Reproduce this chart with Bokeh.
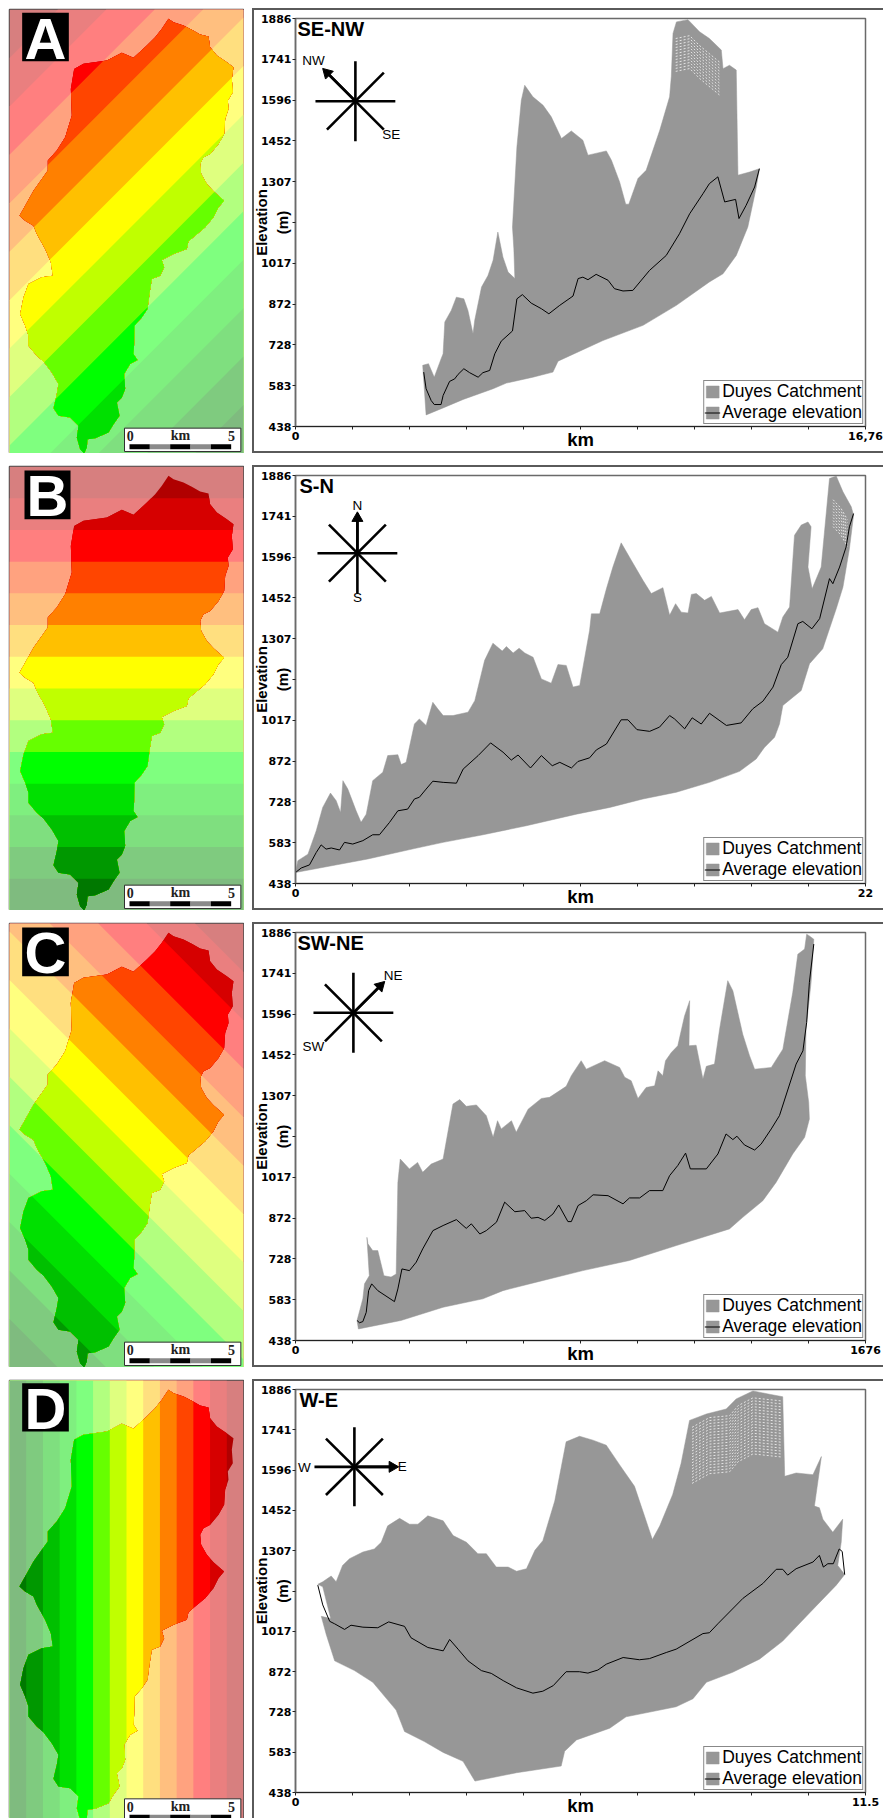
import math
from bokeh.embed import file_html
from bokeh.layouts import column, row
from bokeh.models import (FixedTicker, Label, Legend, LegendItem, Range1d, Spacer)
from bokeh.plotting import figure
from bokeh.resources import INLINE

ELEV_TICKS = [438, 583, 728, 872, 1017, 1307, 1452, 1596, 1741, 1886]
ELEV_BLANK_TICK = [1162]

A_MAX = 16.76
B_MAX = 22
C_MAX = 16.76
D_MAX = 11.5
A_END_LABEL = "16,76"
B_END_LABEL = "22"
C_END_LABEL = "1676"
D_END_LABEL = "11.5"

A_UP_KM = [3.74,3.91,4.08,4.28,4.34,4.39,4.58,4.73,4.95,5.07,5.22,5.27,5.47,5.66,5.81,5.95,6.10,6.25,6.45,6.42,6.38,6.51,6.64,6.74,6.98,7.28,7.52,7.82,8.11,8.45,8.60,8.89,9.14,9.29,9.53,9.71,9.80,10.07,10.31,10.71,11.00,11.05,11.10,11.20,11.54,11.88,12.17,12.52,12.57,12.76,12.96,13.01,13.35,13.64]
A_UP_M = [655,661,613,678,696,809,850,897,891,850,767,815,933,974,1028,1128,1039,986,963,1069,1146,1430,1596,1649,1608,1578,1537,1460,1487,1454,1401,1409,1416,1383,1306,1227,1227,1318,1347,1489,1608,1680,1833,1874,1882,1839,1815,1774,1708,1720,1703,1330,1341,1353]
A_LOW_KM = [3.84,4.34,4.93,5.81,6.20,6.98,7.57,7.72,9.04,10.22,11.20,12.17,12.57,12.96,13.30,13.55,13.64]
A_LOW_M = [479,504,534,572,592,613,631,670,743,797,868,951,980,1045,1146,1288,1353]
A_AVG_KM = [3.77,3.84,3.99,4.08,4.28,4.34,4.53,4.68,4.78,4.95,5.12,5.37,5.51,5.71,5.86,6.05,6.38,6.51,6.67,6.93,7.23,7.45,7.77,8.16,8.31,8.45,8.60,8.84,9.19,9.38,9.63,9.92,10.41,10.90,11.29,11.59,11.98,12.17,12.42,12.62,12.94,13.04,13.25,13.50,13.64]
A_AVG_M = [631,572,530,516,516,548,598,607,623,643,629,613,629,637,696,741,777,891,906,876,856,838,868,901,963,968,959,978,957,927,919,921,992,1045,1122,1193,1264,1300,1324,1235,1244,1176,1223,1288,1353]
A_STREAK_KM = [11.18,11.59,11.88,12.48]
A_STREAK_M = [1815,1825,1790,1730]

B_UP_KM = [0,0.09,0.48,0.80,1.05,1.35,1.57,1.74,1.83,2.02,2.34,2.53,2.73,2.98,3.37,3.56,3.95,4.08,4.27,4.59,4.78,5.04,5.30,5.49,5.70,6.08,6.66,6.92,7.30,7.62,7.98,8.14,8.40,8.63,8.85,9.17,9.49,9.87,10.13,10.45,10.71,10.97,11.35,11.42,11.74,12.00,12.25,12.57,12.96,13.41,13.73,14.18,14.44,14.67,14.89,15.15,15.28,15.47,15.79,16.05,16.37,17.08,17.33,17.59,17.85,18.10,18.62,18.81,19.07,19.26,19.52,19.78,19.90,19.78,19.94,20.29,20.61,20.87,21.13,21.45,21.54]
B_UP_M = [477,519,542,625,708,759,732,690,803,773,696,655,684,803,833,892,895,860,868,1004,1022,999,1081,1058,1034,1034,1046,1087,1230,1291,1263,1279,1256,1273,1256,1241,1164,1149,1215,1212,1135,1141,1336,1395,1395,1484,1561,1647,1585,1514,1467,1488,1390,1431,1401,1398,1464,1467,1443,1457,1398,1410,1374,1410,1417,1360,1330,1384,1419,1674,1710,1721,1704,1561,1484,1561,1875,1884,1828,1775,1745]
B_LOW_KM = [0,2.79,4.59,5.70,7.24,8.91,10.84,12.13,13.41,14.70,15.98,17.14,17.78,18.10,18.49,18.68,18.81,19.52,19.84,20.35,20.87,21.13,21.38,21.54]
B_LOW_M = [477,525,562,584,611,643,684,708,738,762,797,836,880,921,957,1004,1070,1123,1218,1271,1413,1490,1627,1745]
B_AVG_KM = [0,0.22,0.54,0.80,0.99,1.18,1.38,1.70,1.89,2.21,2.60,2.98,3.24,3.63,3.95,4.33,4.59,4.78,5.04,5.30,5.70,6.21,6.47,7.05,7.53,8.01,8.33,8.59,9.07,9.49,9.91,10.20,10.65,10.90,11.35,11.61,12.00,12.57,12.83,13.18,13.67,14.05,14.44,14.63,15.02,15.31,15.66,15.98,16.63,17.20,17.65,18.04,18.43,18.75,19.00,19.39,19.58,19.93,20.23,20.61,20.74,21.00,21.25,21.38,21.54]
B_AVG_M = [477,493,504,548,575,560,564,557,584,578,590,611,611,655,696,702,738,744,773,801,797,794,844,892,937,904,876,894,848,892,856,868,848,871,884,912,933,1019,1019,984,978,993,1034,1022,987,1026,1004,1042,999,1008,1058,1085,1135,1215,1241,1360,1368,1342,1378,1520,1502,1561,1632,1704,1751]
B_STREAK_KM = [20.75,21.05,21.30]
B_STREAK_M = [1800,1770,1730]

C_UP_KM = [1.81,1.98,2.03,2.17,2.10,2.13,2.27,2.42,2.60,2.81,2.96,3.01,3.08,3.35,3.59,3.74,3.99,4.34,4.63,4.83,5.02,5.32,5.61,5.81,5.94,6.05,6.35,6.49,6.84,7.23,7.47,7.96,8.11,8.40,8.55,9.09,9.53,9.68,9.87,10.07,10.31,10.56,10.66,10.80,10.88,11.05,11.24,11.44,11.59,11.57,11.78,11.98,12.08,12.32,12.47,12.71,12.86,13.15,13.35,13.50,13.99,14.33,14.62,14.77,14.97,15.03,15.11,15.24]
C_UP_M = [509,586,639,668,804,781,757,757,668,663,674,999,1082,1047,1070,1035,1064,1082,1277,1293,1269,1274,1236,1159,1218,1189,1218,1177,1259,1297,1301,1340,1378,1431,1401,1431,1407,1372,1360,1297,1336,1342,1395,1378,1431,1460,1484,1590,1644,1484,1486,1366,1411,1419,1543,1715,1679,1525,1449,1401,1407,1472,1673,1809,1827,1880,1874,1862]
C_LOW_KM = [1.85,3.10,4.34,5.51,6.10,7.08,8.45,9.82,11.20,12.76,13.15,13.74,14.13,14.62,14.97,15.11,15.09,14.99,15.01,15.16,15.24]
C_LOW_M = [479,509,556,586,615,645,686,722,775,834,875,934,999,1100,1159,1224,1283,1378,1543,1709,1862]
C_AVG_KM = [1.81,1.88,1.98,2.08,2.15,2.24,2.42,2.91,3.01,3.13,3.35,3.55,3.74,4.04,4.34,4.73,5.02,5.17,5.42,5.61,5.91,6.15,6.45,6.74,6.93,7.13,7.33,7.57,7.74,8.01,8.11,8.31,8.55,8.75,9.19,9.63,9.82,10.12,10.41,10.80,11.00,11.24,11.47,11.61,12.08,12.42,12.66,12.86,12.98,13.20,13.50,13.69,13.99,14.23,14.72,14.92,15.03,15.11,15.24]
C_AVG_M = [509,501,505,538,615,639,615,576,621,692,686,716,763,828,846,867,836,852,816,828,858,929,895,899,872,875,864,887,919,860,860,917,934,955,952,923,944,944,970,970,1023,1059,1103,1047,1047,1100,1171,1151,1163,1132,1114,1135,1189,1236,1419,1466,1567,1709,1845]

D_UP_KM = [0.71,0.55,0.45,0.55,0.72,0.82,0.95,1.09,1.36,1.59,1.73,1.86,2.10,2.30,2.47,2.67,2.98,3.18,3.45,3.68,3.85,4.05,4.29,4.46,4.66,4.83,4.99,5.23,5.46,5.73,6.00,6.27,6.54,6.84,7.04,7.20,7.35,7.61,7.78,7.95,8.29,8.69,8.89,9.23,9.56,9.83,9.87,10.10,10.44,10.61,10.47,10.57,10.64,10.84,11.04,11.01,10.94,11.08]
D_UP_M = [1063,1177,1186,1195,1216,1195,1254,1278,1302,1313,1337,1396,1423,1402,1402,1432,1414,1361,1337,1296,1296,1248,1248,1233,1242,1308,1343,1485,1698,1718,1704,1686,1615,1538,1432,1347,1396,1509,1621,1775,1798,1816,1852,1881,1869,1860,1574,1586,1580,1645,1467,1461,1420,1373,1420,1337,1254,1221]
D_LOW_KM = [0.71,0.52,0.62,0.79,1.19,1.56,2.03,2.20,2.60,2.98,3.38,3.62,4.46,5.36,5.43,5.67,6.34,6.67,7.68,8.02,8.29,8.82,9.36,9.83,10.37,10.91,11.08]
D_LOW_M = [1063,1071,1006,911,876,834,734,657,621,582,550,479,509,533,586,627,669,710,746,775,834,870,917,982,1083,1183,1221]
D_AVG_KM = [0.45,0.55,0.69,0.79,0.99,1.12,1.36,1.66,1.88,2.20,2.33,2.67,2.98,3.11,3.28,3.48,3.75,3.95,4.19,4.46,4.79,4.99,5.20,5.46,5.73,5.90,6.10,6.27,6.61,6.94,7.14,7.48,7.68,8.22,8.35,8.52,9.03,9.43,9.70,9.83,9.93,10.10,10.44,10.57,10.65,10.74,10.85,10.97,11.03,11.08]
D_AVG_M = [1183,1112,1053,1044,1024,1039,1032,1030,1051,1035,994,959,947,988,953,911,876,866,840,814,795,802,822,872,872,867,878,899,923,915,919,941,953,1009,1012,1044,1136,1189,1240,1240,1219,1242,1266,1290,1248,1260,1260,1313,1304,1221]
D_STREAK_KM = [8.00,8.35,8.76,8.93,9.23,9.80]
D_STREAK_M = [1750,1785,1792,1828,1856,1845]

CATCH_E = [477,492,522,547,572,597,602,622,652,672,667,670,655,657,647,644,627,602,582,572,575,592,612,644,627,612,587,557,537,532,492,457,464,452,427,420,414,397,375,374,372,384,362,344,347,337,322,330,312,297,257,234,232,224,212,202,207,182,147,132,142,147,127,102,82,57,57,47,32,42,57,97,130,124,107,82,72,47,30,47,72,97,115,115,142,167,187,184,194,222,292,337,372,412,437,457]
CATCH_N = [1303,1293,1283,1270,1256,1250,1218,1193,1173,1158,1123,1083,1058,1033,1003,958,928,898,888,868,838,808,786,758,738,708,678,653,636,613,598,580,558,533,523,478,433,408,383,328,298,280,268,238,193,168,153,113,88,63,46,43,18,0,13,48,83,108,113,136,178,208,243,276,293,323,353,383,418,468,508,528,533,573,613,658,683,698,713,743,788,823,848,878,908,948,1013,1093,1153,1168,1178,1201,1186,1223,1248,1273]
BAND_COLORS = ["#b00000","#d60000","#ff0000","#ff4500","#ff8000","#ffc000","#ffff00","#c0ff00","#66ff00","#00ff00","#00e000","#00c000","#009800","#007800"]
MAP_W, MAP_H = 702, 1331
GRAY = "#979797"
BORDER = "#5a5a5a"
TOPS = [8, 465, 922, 1379]


def pale(c):
    r, g, b = (int(c[i:i + 2], 16) for i in (1, 3, 5))
    return "#%02x%02x%02x" % ((r + 255) // 2, (g + 255) // 2, (b + 255) // 2)


def clip(poly, a, b, c):
    out = []
    f = lambda p: a * p[0] + b * p[1] + c
    for i, q in enumerate(poly):
        p = poly[i - 1]
        fp, fq = f(p), f(q)
        if (fp >= 0) != (fq >= 0):
            t = fp / (fp - fq)
            out.append((p[0] + t * (q[0] - p[0]), p[1] + t * (q[1] - p[1])))
        if fq >= 0:
            out.append(q)
    return out


def paint_bands(p, poly, proj, col_fn):
    a, b, c = proj
    for i, col in enumerate(BAND_COLORS):
        s = clip(poly, a, b, c - i / 14)
        if s:
            p.patch([q[0] for q in s], [q[1] for q in s], fill_color=col_fn(col), line_color=None)


def make_map(letter, box, proj, height):
    bottom = MAP_H - (height - 1) * 3
    extra = 7
    p = figure(width=236, height=height + extra, x_range=Range1d(0, MAP_W), y_range=Range1d(max(bottom, 0), MAP_H),
               x_axis_type=None, y_axis_type=None, toolbar_location=None, output_backend="svg",
               min_border_left=1, min_border_right=1, min_border_top=1 + extra, min_border_bottom=0,
               border_fill_alpha=0, styles={"margin-top": "-%dpx" % extra})
    p.grid.visible = False
    p.outline_line_color = "#4a4a4a"
    p.outline_line_width = 1.5
    rect = [(0, 0), (MAP_W, 0), (MAP_W, MAP_H), (0, MAP_H)]
    paint_bands(p, rect, proj, pale)
    paint_bands(p, list(zip(CATCH_E, CATCH_N)), proj, lambda c: c)
    x0, x1, r0, r1 = box
    p.quad(left=x0, right=x1, top=MAP_H - r0, bottom=MAP_H - r1, fill_color="black", line_color=None)
    p.add_layout(Label(x=(x0 + x1) / 2, y=MAP_H - (r0 + r1) / 2 - 3, text=letter, text_align="center",
                       text_baseline="middle", text_color="white", text_font="Liberation Sans",
                       text_font_style="bold", text_font_size="58px"))
    p.quad(left=345, right=694, top=76, bottom=6, fill_color="white", line_color="#303030", line_width=1)
    for i, col in enumerate(["black", "#8a8a8a", "black", "#8a8a8a", "black"]):
        p.quad(left=360 + 61 * i, right=421 + 61 * i, top=28, bottom=13, fill_color=col, line_color=None)
    for txt, e in (("0", 362), ("km", 513), ("5", 666)):
        p.add_layout(Label(x=e, y=53, text=txt, text_align="center", text_baseline="middle",
                           text_font="Liberation Serif", text_font_style="bold", text_font_size="14px",
                           text_color="#222222"))
    return p


def make_chart(idx, title, title_x, xmax, end_label, up_x, up_y, low_x, low_y, avg_x, avg_y, compass, streak):
    top = TOPS[idx]
    height = 445 if idx < 3 else 439
    grad = "linear-gradient(%s,%s) no-repeat" % (BORDER, BORDER)
    edges = ["%s 2px 0 / 2px 100%%" % grad, "%s 2px 0 / 100%% 2px" % grad]
    if idx < 3:
        edges.append("%s 2px 100%% / 100%% 2px" % grad)
    p = figure(width=633, height=height, x_range=Range1d(0, xmax), y_range=Range1d(438, 1886),
               toolbar_location=None, output_backend="svg", min_border_left=44, min_border_right=18,
               min_border_top=10, min_border_bottom=height - 418, border_fill_alpha=0,
               styles={"background": ", ".join(edges)})
    p.grid.visible = False
    p.outline_line_color = "#6a6a6a"
    p.outline_line_width = 1.5
    fx = lambda px: (px - 294) / 571 * xmax
    fy = lambda py: 438 + (418 - (py - top)) / 408 * 1448

    p.xaxis.ticker = FixedTicker(ticks=[0, xmax], minor_ticks=[xmax * k / 10 for k in range(1, 10)])
    p.xaxis.major_label_overrides = {0: "0", xmax: end_label}
    p.yaxis.ticker = FixedTicker(ticks=ELEV_TICKS, minor_ticks=ELEV_BLANK_TICK)
    for ax in (p.xaxis[0], p.yaxis[0]):
        ax.major_tick_in = 0
        ax.minor_tick_in = 0
        ax.major_tick_out = 3
        ax.minor_tick_out = 3
        ax.major_label_text_font = "DejaVu Sans"
        ax.major_label_text_font_style = "bold"
        ax.major_label_text_font_size = "11px"
        ax.major_label_text_color = "black"
        ax.axis_line_color = "#222222"
        ax.major_tick_line_color = "#222222"
        ax.minor_tick_line_color = "#222222"
        ax.axis_label_text_font = "Liberation Sans"
        ax.axis_label_text_font_style = "bold"
        ax.axis_label_text_color = "black"
    p.yaxis[0].axis_line_color = "#6a6a6a"
    p.yaxis[0].axis_line_width = 1.5
    p.yaxis[0].major_label_standoff = 1
    p.xaxis[0].major_label_standoff = 2
    p.xaxis[0].axis_label = "km"
    p.xaxis[0].axis_label_text_font_size = "18.5px"
    p.xaxis[0].axis_label_standoff = -14
    p.yaxis[0].axis_label = "Elevation\n(m)"
    p.yaxis[0].axis_label_text_font_size = "15px"
    p.yaxis[0].axis_label_standoff = -33

    area = p.patch(up_x + low_x[::-1], up_y + low_y[::-1], fill_color=GRAY, line_color=GRAY, line_width=0.5)
    sx, sy, rows_n = streak
    xs = [sx for k in range(rows_n)]
    ys = [[v - 10.6 * k for v in sy] for k in range(rows_n)]
    p.multi_line(xs, ys, line_color="white", line_width=1, line_dash="2 2", line_alpha=0.75)
    line = p.line(avg_x, avg_y, line_color="black", line_width=1)

    p.add_layout(Label(x=fx(title_x), y=fy(top + 20.5), text=title, text_font_size="20px",
                       text_align="left", text_baseline="middle", text_font="Liberation Sans",
                       text_font_style="bold", text_color="black"))

    cx, cy = compass["center"]
    cy += top
    r, d = 40, 28.5
    spokes = [(-r, 0, r, 0), (0, -r, 0, r), (-d, -d, d, d), (-d, d, d, -d)]
    for a, b, c, e in spokes:
        p.segment(fx(cx + a), fy(cy + b), fx(cx + c), fy(cy + e), line_color="black", line_width=2.6)
    ax_, ay_, ang, reach = compass["arrow"]
    p.segment(fx(cx), fy(cy), fx(cx + ax_ * (reach - 4)), fy(cy + ay_ * (reach - 4)), line_color="black", line_width=2.6)
    p.scatter([fx(cx + ax_ * (reach - 6))], [fy(cy + ay_ * (reach - 6))], marker="triangle", size=11, angle=ang,
              fill_color="black", line_color="black")
    for txt, tx, ty in compass["labels"]:
        p.add_layout(Label(x=fx(tx), y=fy(top + ty), text=txt, text_align="center", text_baseline="middle",
                           text_font="Liberation Sans", text_font_size="13.5px", text_color="black"))

    legend = Legend(items=[LegendItem(label="Duyes Catchment", renderers=[area]),
                           LegendItem(label="Average elevation", renderers=[area, line])],
                    location="bottom_right", margin=2, padding=0, spacing=0, glyph_width=16, glyph_height=15,
                    label_standoff=2, label_height=13, label_text_font="Liberation Sans",
                    label_text_font_size="17.5px", label_text_color="black", border_line_color="#111111",
                    border_line_width=1.3, background_fill_color="white", background_fill_alpha=1)
    p.add_layout(legend)
    return p


s = 0.7071
rows = []
spec = [
    ("A", (38, 178, 10, 155), (1 / 2033, -1 / 2033, 1331 / 2033),
     ("SE-NW", 296, A_MAX, A_END_LABEL, A_UP_KM, A_UP_M, A_LOW_KM, A_LOW_M, A_AVG_KM, A_AVG_M,
      {"center": (354, 92.7), "arrow": (-s, -s, math.pi / 4, 46), "labels": [("NW", 312, 52), ("SE", 390, 126)]},
      (A_STREAK_KM, A_STREAK_M, 12))),
    ("B", (45, 183, 12, 158), (0, -1 / 1331, 1),
     ("S-N", 298, B_MAX, B_END_LABEL, B_UP_KM, B_UP_M, B_LOW_KM, B_LOW_M, B_AVG_KM, B_AVG_M,
      {"center": (356, 87.7), "arrow": (0, -1, 0, 41), "labels": [("N", 356, 40), ("S", 356, 132)]},
      (B_STREAK_KM, B_STREAK_M, 10))),
    ("C", (38, 178, 12, 158), (-1 / 2033, -1 / 2033, (702 + 1331) / 2033),
     ("SW-NE", 296, C_MAX, C_END_LABEL, C_UP_KM, C_UP_M, C_LOW_KM, C_LOW_M, C_AVG_KM, C_AVG_M,
      {"center": (352, 90.3), "arrow": (s, -s, -math.pi / 4, 44), "labels": [("NE", 391.7, 53), ("SW", 312, 124.3)]},
      ([], [], 0))),
    ("D", (38, 178, 8, 153), (-1 / 702, 0, 1),
     ("W-E", 298, D_MAX, D_END_LABEL, D_UP_KM, D_UP_M, D_LOW_KM, D_LOW_M, D_AVG_KM, D_AVG_M,
      {"center": (353, 88.3), "arrow": (1, 0, -math.pi / 2, 44), "labels": [("W", 303, 89), ("E", 401, 88)]},
      (D_STREAK_KM, D_STREAK_M, 20))),
]
for i, (letter, box, proj, ch) in enumerate(spec):
    h = 445 if i < 3 else 439
    m = make_map(letter, box, proj, h)
    c = make_chart(i, *ch)
    rows.append(row(column(m, spacing=0), Spacer(width=6, height=h), column(c, spacing=0), spacing=0))

page = column(*rows, spacing=12, margin=(8, 0, 0, 8))
open("out.html", "w").write(file_html(page, INLINE))
